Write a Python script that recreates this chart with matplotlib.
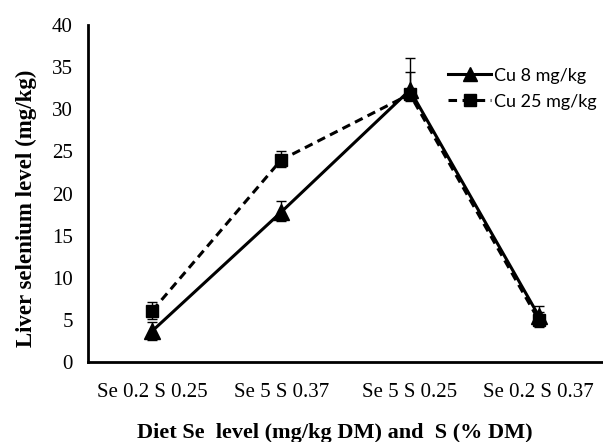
import numpy as np
import matplotlib
matplotlib.use('Agg')
from matplotlib import pyplot as plt
from matplotlib.lines import Line2D

# data
categories = ['Se 0.2 S 0.25', 'Se 5 S 0.37', 'Se 5 S 0.25', 'Se 0.2 S 0.37']
cu8 = [3.7, 17.8, 32.3, 5.5]
cu8_err_lo = [1.1, 1.0, 1.0, 1.1]
cu8_err_hi = [1.1, 1.3, 3.8, 1.1]
cu25 = [6.1, 24.0, 31.8, 5.0]
cu25_err_lo = [1.0, 0.9, 0.8, 0.9]
cu25_err_hi = [1.0, 1.0, 2.7, 0.9]

plt.rcParams['font.family'] = 'Liberation Serif'

fig = plt.figure(figsize=(6.03, 4.42), dpi=100)
ax = fig.add_axes([0.146, 0.181, 0.854, 0.762])

x = np.arange(len(categories))
dash = (0, (2.8, 1.8))

ax.errorbar(x, cu8, yerr=[cu8_err_lo, cu8_err_hi], color='black', lw=2.2, marker='^',
            markersize=11, capsize=3.5, elinewidth=1, ecolor='black')
ax.errorbar(x, cu25, yerr=[cu25_err_lo, cu25_err_hi], color='black', lw=2.2, ls=dash,
            marker='s', markersize=9, capsize=3.5, elinewidth=1, ecolor='black')

ax.set_xlim(-0.5, 3.5)
ax.set_ylim(0, 40)
ax.set_yticks(range(0, 41, 5))
ax.set_xticks(x)
ax.set_xticklabels(categories)
ax.tick_params(axis='both', length=0, labelsize=15)
ax.tick_params(axis='x', pad=15)
ax.tick_params(axis='y', pad=11)

for s in ['top', 'right']:
    ax.spines[s].set_visible(False)
for s in ['left', 'bottom']:
    ax.spines[s].set_linewidth(2)

ax.set_ylabel('Liver selenium level (mg/kg)', fontsize=16.5, fontweight='bold')
ax.yaxis.set_label_coords(-0.10, 0.455)
ax.set_xlabel('Diet Se  level (mg/kg DM) and  S (% DM)', fontsize=16, fontweight='bold')
ax.xaxis.set_label_coords(0.48, -0.18)

handles = [Line2D([], [], color='black', lw=2.2, marker='^', markersize=10),
           Line2D([], [], color='black', lw=2.2, ls=dash, marker='s', markersize=8)]
labels = ['Cu 8 mg/kg', 'Cu 25 mg/kg']
ax.legend(handles, labels, loc='upper left', bbox_to_anchor=(0.685, 0.895), frameon=False,
          prop={'family': 'Lato', 'size': 13}, handlelength=2.4, handletextpad=0.15,
          labelspacing=0.55, borderaxespad=0)

fig.savefig('out.png', dpi=100)
